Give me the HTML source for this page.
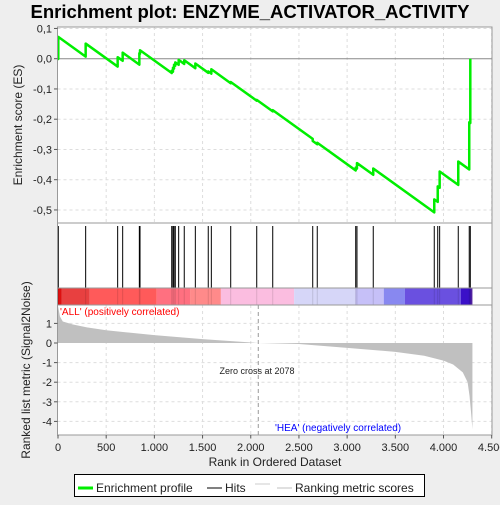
<!DOCTYPE html>
<html><head><meta charset="utf-8"><style>
body{margin:0;background:#eee;font-family:"Liberation Sans",sans-serif;}
svg text{font-family:"Liberation Sans",sans-serif;}
</style></head><body>
<svg id="c" width="500" height="500" xmlns="http://www.w3.org/2000/svg">
<rect width="500" height="500" fill="#eeeeee"/>
<text x="250" y="18" text-anchor="middle" font-size="18.5" font-weight="bold">Enrichment plot: ENZYME_ACTIVATOR_ACTIVITY</text>
<g id="g"></g>
</svg>
<script>
const hitRanks=[3,287,619,671,844,851,1180,1193,1204,1217,1252,1310,1425,1559,1591,1792,2062,2228,2643,2690,3089,3102,3271,3904,3940,3960,4153,4267,4278];
const esAfter=[0.072,0.05,0.005,0.02,0.018,0.028,-0.04,-0.03,-0.02,-0.012,-0.004,-0.005,-0.016,-0.042,-0.035,-0.077,-0.136,-0.17,-0.272,-0.278,-0.36,-0.345,-0.363,-0.465,-0.422,-0.373,-0.34,-0.21,0.0];
const esSlope=0.000229;
const metricRanks=[0,20,50,150,300,500,700,1000,1500,2078,2500,3000,3500,3800,4000,4100,4200,4250,4270,4285,4300];
const metricVals=[1.9,1.35,1.1,0.95,0.8,0.65,0.55,0.4,0.2,0.0,-0.05,-0.25,-0.45,-0.65,-0.9,-1.1,-1.5,-2.0,-2.7,-3.5,-4.4];
const esTicks=[0.1,0,-0.1,-0.2,-0.3,-0.4,-0.5];
const metTicks=[1,0,-1,-2,-3,-4];
const xTicks=[0,500,1000,1500,2000,2500,3000,3500,4000,4500];
const barSegs=[[0,'#dd1010'],[40,'#e84040'],[330,'#ff5a5a'],[1025,'#ff7080'],[1370,'#ff8a8a'],[1690,'#fbbde0'],[2450,'#d6d6f8'],[3085,'#c6c0f8'],[3380,'#8888f0'],[3600,'#6a50e0'],[4180,'#3a10c8'],[4280,'#5020a0'],[4300,null]];

const X0=58,X1=491.7,NMAX=4500;
const xs=r=>X0+r*(X1-X0)/NMAX;
const yES=v=>58.7-v*302.5;
const yM=v=>343-v*19.6;
const g=document.getElementById('g');
const NS='http://www.w3.org/2000/svg';
function mk(t,a,p){const e=document.createElementNS(NS,t);for(const k in a)e.setAttribute(k,a[k]);(p||g).appendChild(e);return e;}

let e;
e=mk('rect',{x:57.5,y:27,width:434.5,height:408,fill:'#fff',stroke:'none'});


xTicks.forEach(t=>{if(t===0)return;
 mk('line',{x1:xs(t),x2:xs(t),y1:27,y2:223,stroke:'#ddd','stroke-dasharray':'3,3'});
 mk('line',{x1:xs(t),x2:xs(t),y1:305,y2:435,stroke:'#ddd','stroke-dasharray':'3,3'});});
esTicks.forEach(t=>{if(t!==0)mk('line',{x1:57.5,x2:492,y1:yES(t),y2:yES(t),stroke:'#ddd','stroke-dasharray':'3,3'});});
metTicks.forEach(t=>{if(t!==0)mk('line',{x1:57.5,x2:492,y1:yM(t),y2:yM(t),stroke:'#ddd','stroke-dasharray':'3,3'});});
mk('line',{x1:57.5,x2:492,y1:yES(0),y2:yES(0),stroke:'#888'});
for(let i=0;i<barSegs.length-1;i++){if(!barSegs[i][1])continue;
 e=mk('rect',{x:xs(barSegs[i][0]),y:288,width:xs(barSegs[i+1][0])-xs(barSegs[i][0]),height:17,fill:barSegs[i][1]});
 
 }
hitRanks.forEach(r=>mk('line',{x1:xs(r),x2:xs(r),y1:288,y2:305,stroke:'rgba(0,0,0,0.12)'}));
let d='M'+xs(0)+','+yM(0);
metricRanks.forEach((r,i)=>{d+=' L'+xs(r)+','+yM(metricVals[i]);});
d+=' L'+xs(metricRanks[metricRanks.length-1])+','+yM(0)+'Z';
e=mk('path',{d:d,fill:'#c0c0c0'});


mk('line',{x1:xs(2078),x2:xs(2078),y1:305,y2:435,stroke:'#999','stroke-dasharray':'4,3'});
hitRanks.forEach(r=>{const h=mk('line',{x1:xs(r),x2:xs(r),y1:226,y2:288,stroke:'#000','stroke-width':1});
 
 });
let pts=[[0,0]];let prev=0,prevR=0;
hitRanks.forEach((r,i)=>{const before=prev-esSlope*(r-prevR);pts.push([r,before]);pts.push([r,esAfter[i]]);prev=esAfter[i];prevR=r;});
e=mk('polyline',{points:pts.map(p=>xs(p[0])+','+yES(p[1])).join(' '),fill:'none',stroke:'#00ee00','stroke-width':2.5,'stroke-linejoin':'round'});


mk('rect',{x:57.5,y:27,width:434.5,height:196,fill:'none',stroke:'#999'});
mk('rect',{x:57.5,y:223,width:434.5,height:65,fill:'none',stroke:'#999'});
mk('rect',{x:57.5,y:288,width:434.5,height:17,fill:'none',stroke:'#999'});
mk('rect',{x:57.5,y:305,width:434.5,height:130,fill:'none',stroke:'#999'});
esTicks.forEach(t=>{mk('line',{x1:54,x2:57.5,y1:yES(t),y2:yES(t),stroke:'#555'});
 const tx=mk('text',{x:52,y:yES(t)+4,'text-anchor':'end','font-size':11,fill:'#222'});tx.textContent=t.toFixed(1).replace('.',',');
 
 });
metTicks.forEach(t=>{mk('line',{x1:54,x2:57.5,y1:yM(t),y2:yM(t),stroke:'#555'});
 const tx=mk('text',{x:52,y:yM(t)+4,'text-anchor':'end','font-size':11,fill:'#222'});tx.textContent=t;
 
 });
xTicks.forEach(t=>{mk('line',{x1:xs(t),x2:xs(t),y1:435,y2:438.5,stroke:'#555'});
 const tx=mk('text',{x:xs(t),y:451,'text-anchor':'middle','font-size':11,fill:'#222'});tx.textContent=t.toLocaleString('de-DE');
 
 });
</script>
<svg width="500" height="500" style="position:absolute;left:0;top:0" xmlns="http://www.w3.org/2000/svg">
<text x="22" y="125" transform="rotate(-90 22 125)" text-anchor="middle" font-size="12" fill="#222">Enrichment score (ES)</text>
<text x="30" y="370" transform="rotate(-90 30 370)" text-anchor="middle" font-size="12" fill="#222">Ranked list metric (Signal2Noise)</text>
<text x="275" y="466" text-anchor="middle" font-size="12" fill="#222">Rank in Ordered Dataset</text>
<text x="60" y="315" font-size="10" fill="#ff0000">'ALL' (positively correlated)</text>
<text x="275" y="431" font-size="10" fill="#0000ff">'HEA' (negatively correlated)</text>
<text x="257" y="374" text-anchor="middle" font-size="9" fill="#222">Zero cross at 2078</text>
<g>
<rect x="74.5" y="474.5" width="350" height="22" fill="#fff" stroke="#000"/>
<line x1="78" y1="488" x2="93" y2="488" stroke="#00ee00" stroke-width="3"/>
<text x="96" y="492" font-size="12" fill="#222">Enrichment profile</text>
<line x1="207" y1="488" x2="222" y2="488" stroke="#000"/>
<text x="225" y="492" font-size="12" fill="#222">Hits</text>
<line x1="255" y1="484" x2="270" y2="484" stroke="#ccc"/>
<line x1="277" y1="488" x2="292" y2="488" stroke="#c0c0c0"/>
<text x="295" y="492" font-size="12" fill="#222">Ranking metric scores</text>
</g>
</svg>
</body></html>
